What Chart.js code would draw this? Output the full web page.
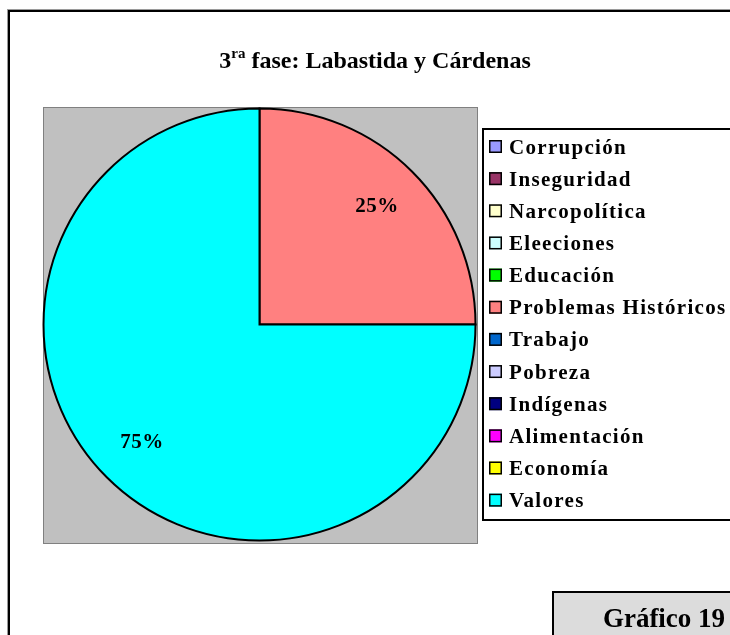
<!DOCTYPE html>
<html>
<head>
<meta charset="utf-8">
<script src="https://cdn.jsdelivr.net/npm/chart.js@4"></script>
<style>
html,body{margin:0;padding:0;background:#fff;}
#wrap{position:absolute;left:0;top:0;width:730px;height:635px;}
</style>
</head>
<body>
<div id="wrap"><canvas id="c" width="730" height="635"></canvas></div>
<script>
const categories = ["Corrupción","Inseguridad","Narcopolítica","Eleeciones","Educación","Problemas Históricos","Trabajo","Pobreza","Indígenas","Alimentación","Economía","Valores"];
const values = [0,0,0,0,0,25,0,0,0,0,0,75];
const colors = ["#9999FF","#993366","#FFFFCC","#CCFFFF","#00FF00","#FF8080","#0066CC","#CCCCFF","#000080","#FF00FF","#FFFF00","#00FFFF"];
const titleMain = "3";
const titleSup = "ra";
const titleRest = " fase: Labastida y Cárdenas";
const boxLabel = "Gráfico 19";

const SERIF = '"Liberation Serif", "Times New Roman", serif';

const framePlugin = {
  id: 'frame',
  beforeDraw(chart) {
    const ctx = chart.ctx;
    ctx.save();
    ctx.fillStyle = '#fff';
    ctx.fillRect(0,0,chart.width,chart.height);
    ctx.strokeStyle = '#9a9a9a';
    ctx.lineWidth = 1;
    ctx.strokeRect(7.5,9.5,760,660);
    ctx.strokeStyle = '#000';
    ctx.lineWidth = 2;
    ctx.strokeRect(9,11,760,660);
    ctx.fillStyle = '#C0C0C0';
    ctx.fillRect(43,107,434,436);
    ctx.strokeStyle = '#808080';
    ctx.lineWidth = 1;
    ctx.strokeRect(43.5,107.5,434,436);
    ctx.fillStyle = '#000';
    ctx.textBaseline = 'alphabetic';
    const big = 'bold 24px ' + SERIF, small = 'bold 15px ' + SERIF;
    ctx.font = big; const w1 = ctx.measureText(titleMain).width;
    const w3 = ctx.measureText(titleRest).width;
    ctx.font = small; const w2 = ctx.measureText(titleSup).width;
    let x = 375 - (w1+w2+w3)/2;
    const by = 68;
    ctx.font = big; ctx.fillText(titleMain, x, by); x += w1;
    ctx.font = small; ctx.fillText(titleSup, x, by-10); x += w2;
    ctx.font = big; ctx.fillText(titleRest, x, by);
    ctx.restore();
  },
  afterDraw(chart) {
    const ctx = chart.ctx;
    ctx.save();
    const meta = chart.getDatasetMeta(0);
    ctx.font = 'bold 21px ' + SERIF;
    ctx.letterSpacing = '0.5px';
    ctx.fillStyle = '#000';
    ctx.textAlign = 'center';
    ctx.textBaseline = 'middle';
    const total = values.reduce((a,b)=>a+b,0);
    meta.data.forEach((arc,i) => {
      if (!values[i]) return;
      const p = arc.getProps(['x','y','startAngle','endAngle','outerRadius'], true);
      const mid = (p.startAngle + p.endAngle)/2;
      const r = p.outerRadius * 0.77;
      const txt = Math.round(values[i]/total*100) + '%';
      ctx.fillText(txt, p.x + Math.cos(mid)*r, p.y + Math.sin(mid)*r);
    });
    ctx.letterSpacing = '0px';
    ctx.fillStyle = '#fff';
    ctx.fillRect(482,128,300,392);
    ctx.strokeStyle = '#000';
    ctx.lineWidth = 2;
    ctx.strokeRect(483,129,300,391);
    ctx.font = 'bold 21px ' + SERIF;
    ctx.letterSpacing = '1.3px';
    ctx.textAlign = 'left';
    ctx.textBaseline = 'alphabetic';
    categories.forEach((c,i) => {
      const cy = 146.5 + i*32.15;
      ctx.fillStyle = colors[i];
      ctx.fillRect(489, cy-6.5, 13, 13);
      ctx.strokeStyle = '#000';
      ctx.lineWidth = 1.5;
      ctx.strokeRect(489.75, cy-5.75, 11.5, 11.5);
      ctx.fillStyle = '#000';
      ctx.fillText(c, 509, cy+7);
    });
    ctx.letterSpacing = '0px';
    ctx.fillStyle = '#DCDCDC';
    ctx.fillRect(552,591,200,60);
    ctx.strokeStyle = '#000';
    ctx.lineWidth = 2;
    ctx.strokeRect(553,592,200,60);
    ctx.fillStyle = '#000';
    ctx.font = 'bold 27px ' + SERIF;
    ctx.textAlign = 'center';
    ctx.fillText(boxLabel, 664, 627);
    ctx.restore();
  }
};

new Chart(document.getElementById('c'), {
  type: 'pie',
  data: {
    labels: categories,
    datasets: [{
      data: values,
      backgroundColor: colors,
      borderColor: '#000',
      borderWidth: values.map(v => v ? 2 : 0),
      borderJoinStyle: 'miter'
    }]
  },
  options: {
    responsive: false,
    animation: false,
    radius: 216,
    layout: { padding: { left: 43, right: 254, top: 108, bottom: 94 } },
    plugins: { legend: { display: false }, tooltip: { enabled: false }, title: { display: false } }
  },
  plugins: [framePlugin]
});
</script>
</body>
</html>
